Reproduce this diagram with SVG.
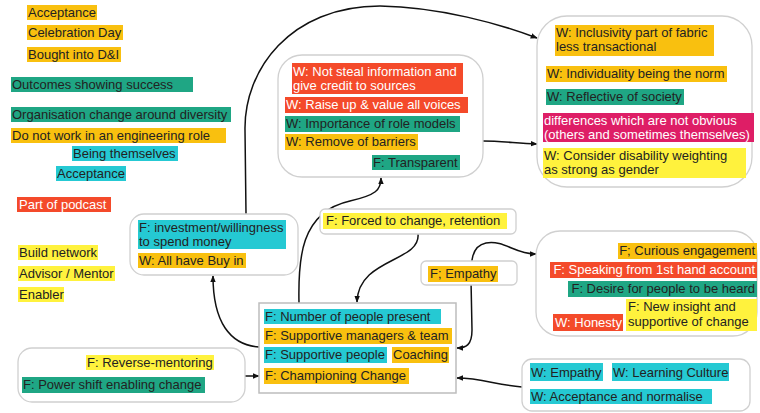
<svg xmlns="http://www.w3.org/2000/svg" width="760" height="413" viewBox="0 0 760 413">
  <defs>
    <marker id="arrow" viewBox="0 0 10 10" refX="9" refY="5" markerWidth="7" markerHeight="7" orient="auto-start-reverse" markerUnits="userSpaceOnUse">
      <path d="M0,1 L10,5 L0,9 Z" fill="#111"/>
    </marker>
    <style>
      text { font-family: "Liberation Sans", Arial, sans-serif; font-size: 13px; fill: #222; }
      text.w { fill: #fff; }
      .box { fill: #fff; stroke: #d0d0d0; stroke-width: 1.3; }
      .sq { fill: #fff; stroke: #bdbdbd; stroke-width: 1.5; }
      .or { fill: #f9c00f; }
      .te { fill: #1fa684; }
      .cy { fill: #25c9d3; }
      .rd { fill: #f44a2a; }
      .ye { fill: #fff23d; }
      .pk { fill: #de1e66; }
      .link { fill: none; stroke: #111; stroke-width: 1.5; }
    </style>
  </defs>
  <rect width="760" height="413" fill="#fff"/>

  <!-- free-standing notes -->
  <g id="notes">
    <rect class="or" x="27" y="5" width="70" height="15"/><text x="28" y="17">Acceptance</text>
    <rect class="or" x="27" y="25" width="96" height="15"/><text x="28" y="37">Celebration Day</text>
    <rect class="or" x="27" y="47" width="94" height="15"/><text x="28" y="59">Bought into D&amp;I</text>
    <rect class="te" x="11" y="77" width="182" height="15"/><text x="12" y="89">Outcomes showing success</text>
    <rect class="te" x="11" y="107" width="220" height="15"/><text x="12" y="119">Organisation change around diversity</text>
    <rect class="or" x="11" y="128" width="215" height="15"/><text x="12" y="140">Do not work in an engineering role</text>
    <rect class="cy" x="72" y="146" width="106" height="15"/><text x="73" y="158">Being themselves</text>
    <rect class="cy" x="56" y="166" width="70" height="15"/><text x="57" y="178">Acceptance</text>
    <rect class="rd" x="17" y="197" width="94" height="15"/><text class="w" x="19" y="209">Part of podcast</text>
    <rect class="ye" x="18" y="245" width="80" height="15"/><text x="19" y="257">Build network</text>
    <rect class="ye" x="18" y="266" width="97" height="15"/><text x="19" y="278">Advisor / Mentor</text>
    <rect class="ye" x="18" y="287" width="46" height="15"/><text x="19" y="299">Enabler</text>
  </g>

  <!-- connectors -->
  <g id="connectors">
    <path class="link" d="M246 214 L245 130 C244 70 290 6 380 6 C440 7 500 24 537 38" marker-end="url(#arrow)"/>
    <path class="link" d="M299 303 C298 260 300 212 350 201 C376 195 381 190 381 178" marker-end="url(#arrow)"/>
    <path class="link" d="M259 347 C230 345 213 322 213 276" marker-end="url(#arrow)"/>
    <path class="link" d="M418 234 C421 262 358 258 357 302" marker-end="url(#arrow)"/>
    <path class="link" d="M536 254 C514 254 505 240 486 243 C471 246 471 262 471 280 L472 330 C472 345 466 348 457 348" marker-start="url(#arrow)" marker-end="url(#arrow)"/>
    <path class="link" d="M483 141 C500 141 515 143 537 144" marker-end="url(#arrow)"/>
    <path class="link" d="M245 376 L259 376" marker-end="url(#arrow)"/>
    <path class="link" d="M522 387 C496 385 482 378 457 378" marker-end="url(#arrow)"/>
    <path class="link" d="M727 74 C737 74 739 80 738 90 L738 112" marker-end="url(#arrow)"/>
  </g>

  <g id="node-investment">
    <rect class="box" x="130" y="214" width="168" height="61" rx="14"/>
    <rect class="cy" x="138" y="220" width="148" height="29"/>
    <text x="139" y="232">F: investment/willingness</text>
    <text x="139" y="246">to spend money</text>
    <rect class="or" x="138" y="253" width="108" height="15"/><text x="139" y="265">W: All have Buy in</text>
  </g>

  <g id="node-values">
    <rect class="box" x="278" y="55" width="205" height="122" rx="24"/>
    <rect class="rd" x="292" y="63" width="171" height="31"/>
    <text class="w" x="293" y="76">W: Not steal information and</text>
    <text class="w" x="293" y="90">give credit to sources</text>
    <rect class="rd" x="285" y="97" width="183" height="16"/><text class="w" x="286" y="109">W: Raise up &amp; value all voices</text>
    <rect class="te" x="285" y="116" width="175" height="16"/><text x="286" y="128">W: Importance of role models</text>
    <rect class="or" x="285" y="134" width="133" height="16"/><text x="286" y="146">W: Remove of barriers</text>
    <rect class="te" x="372" y="155" width="88" height="15"/><text x="373" y="167">F: Transparent</text>
  </g>

  <g id="node-inclusivity">
    <rect class="box" x="537" y="16" width="215" height="171" rx="30"/>
    <rect class="or" x="555" y="25" width="159" height="31"/>
    <text x="556" y="37">W: Inclusivity part of fabric</text>
    <text x="556" y="51">less transactional</text>
    <rect class="or" x="546" y="66" width="181" height="16"/><text x="547" y="78">W: Individuality being the norm</text>
    <rect class="te" x="546" y="89" width="138" height="16"/><text x="547" y="101">W: Reflective of society</text>
    <rect class="pk" x="543" y="113" width="211" height="29"/>
    <text class="w" x="544" y="125">differences which are not obvious</text>
    <text class="w" x="544" y="139">(others and sometimes themselves)</text>
    <rect class="ye" x="543" y="148" width="203" height="30"/>
    <text x="544" y="160">W: Consider disability weighting</text>
    <text x="544" y="174">as strong as gender</text>
  </g>

  <g id="node-forced">
    <rect class="box" x="320" y="209" width="196" height="25" rx="5"/>
    <rect class="ye" x="323" y="213" width="184" height="16"/><text x="326" y="225">F: Forced to change, retention</text>
  </g>

  <g id="node-empathy">
    <rect class="box" x="421" y="261" width="96" height="24" rx="5"/>
    <rect class="or" x="428" y="266" width="70" height="16"/><text x="430" y="278">F; Empathy</text>
  </g>

  <g id="node-engagement">
    <rect class="box" x="536" y="231" width="221" height="105" rx="24"/>
    <rect class="or" x="618" y="243" width="139" height="16"/><text x="755" y="255" text-anchor="end">F; Curious engagement</text>
    <rect class="rd" x="550" y="262" width="207" height="16"/><text class="w" x="755" y="274" text-anchor="end">F: Speaking from 1st hand account</text>
    <rect class="te" x="568" y="281" width="189" height="16"/><text x="755" y="293" text-anchor="end">F: Desire for people to be heard</text>
    <rect class="ye" x="626" y="299" width="131" height="32"/>
    <text x="628" y="311">F: New insight and</text>
    <text x="628" y="326">supportive of change</text>
    <rect class="rd" x="553" y="314" width="70" height="17"/><text class="w" x="555" y="327">W: Honesty</text>
  </g>

  <g id="node-factors">
    <rect class="sq" x="259" y="303" width="197" height="90"/>
    <rect class="cy" x="264" y="309" width="177" height="15"/><text x="265" y="321">F: Number of people present</text>
    <rect class="or" x="264" y="328" width="188" height="16"/><text x="265" y="340">F: Supportive managers &amp; team</text>
    <rect class="cy" x="264" y="347" width="123" height="16"/><text x="265" y="359">F: Supportive people</text>
    <rect class="or" x="392" y="347" width="57" height="16"/><text x="393" y="359">Coaching</text>
    <rect class="or" x="264" y="368" width="145" height="16"/><text x="265" y="380">F: Championing Change</text>
  </g>

  <g id="node-reverse">
    <rect class="box" x="18" y="348" width="227" height="54" rx="14"/>
    <rect class="ye" x="86" y="355" width="128" height="15"/><text x="87" y="367">F: Reverse-mentoring</text>
    <rect class="te" x="22" y="377" width="183" height="16"/><text x="23" y="389">F: Power shift enabling change</text>
  </g>

  <g id="node-culture">
    <rect class="box" x="522" y="359" width="228" height="52" rx="10"/>
    <rect class="cy" x="530" y="363" width="73" height="18"/><text x="531" y="377">W: Empathy</text>
    <rect class="cy" x="612" y="363" width="117" height="18"/><text x="613" y="377">W: Learning Culture</text>
    <rect class="cy" x="530" y="389" width="182" height="15"/><text x="531" y="401">W: Acceptance and normalise</text>
  </g>
</svg>
